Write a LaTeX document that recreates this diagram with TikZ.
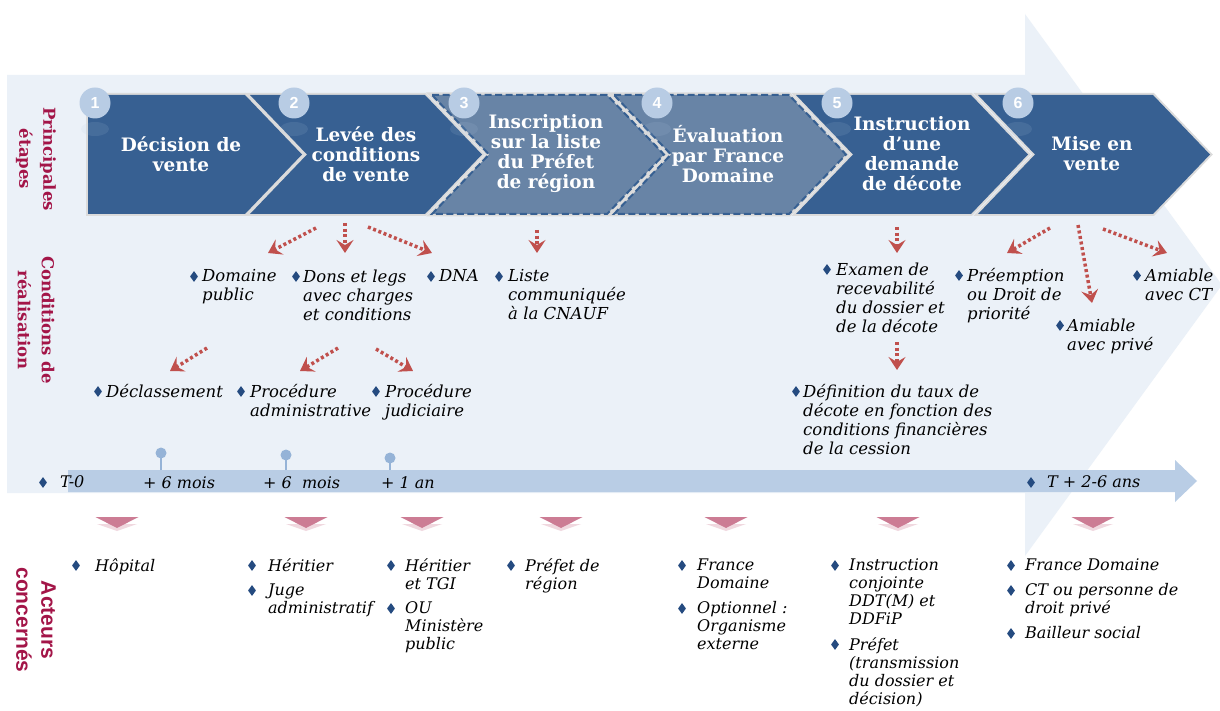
\documentclass[tikz,border=0pt]{standalone}
\usepackage{fontspec}
\setmainfont{DejaVu Serif}
\setsansfont{Liberation Sans}
\usetikzlibrary{shapes.geometric, arrows.meta}

\definecolor{fondbleu}{RGB}{235,241,248}
\definecolor{etapebleu}{RGB}{55,96,146}
\definecolor{etapeclair}{RGB}{104,132,166}
\definecolor{pastille}{RGB}{184,204,228}
\definecolor{titrerouge}{RGB}{163,21,72}
\definecolor{pucebleu}{RGB}{37,75,128}
\definecolor{flecherouge}{RGB}{192,80,77}
\definecolor{axebleu}{RGB}{185,205,229}
\definecolor{epingle}{RGB}{149,179,215}
\definecolor{rose}{RGB}{204,124,148}

% puce + texte : [style]{nom}{x puce}{x texte}{ligne de base}{texte}
\newcommand{\puce}[6][item]{%
  \node[#1, anchor=north west] (#2) at (#4,#5-12.5) {#6};
  \node[losange] (#2-p) at (#3,#5-5.5) {};}

\begin{document}
\begin{tikzpicture}[x=1pt, y=-1pt,
    etape/.style={fill=etapebleu, preaction={draw=black!14, line width=4pt}},
    etapetir/.style={fill=etapeclair, draw=etapebleu, line width=2pt, dash pattern=on 7pt off 3.5pt,
      preaction={draw=black!14, solid, line width=5pt}},
    rond/.style={circle, fill=pastille, minimum size=31pt, inner sep=0pt, text=white,
      font=\sffamily\bfseries\fontsize{16}{16}\selectfont},
    titreetape/.style={text=white, align=center, font=\bfseries\fontsize{18.5}{20}\selectfont},
    titre/.style={text=titrerouge, align=center, rotate=-90, font=\bfseries\fontsize{16.5}{24}\selectfont},
    item/.style={align=left, inner sep=0pt, text=black, font=\itshape\fontsize{16.5}{19}\selectfont},
    acteur/.style={align=left, inner sep=0pt, text=black, font=\itshape\fontsize{16}{18}\selectfont},
    axetxt/.style={inner sep=0pt, text=black, font=\itshape\fontsize{16}{18}\selectfont},
    losange/.style={diamond, fill=pucebleu, minimum width=8pt, minimum height=11pt, inner sep=0pt},
    fleche/.style={flecherouge, line width=3.5pt, dash pattern=on 3pt off 2.6pt,
      -{Stealth[length=13pt, width=17pt, inset=5pt]}}]
  \useasboundingbox (0,0) rectangle (1220,711);
  \fill[white] (0,0) rectangle (1220,711);
  \clip (0,0) rectangle (1220,711);

  % grande flèche de fond
  \fill[fondbleu] (7,75) -- (1025,75) -- (1025,14) -- (1222,285) -- (1025,556) -- (1025,493) -- (7,493) -- cycle;

  % étapes (chevrons)
  \path[etape] (88,95) -- (245,95) -- (302,154.5) -- (245,214) -- (88,214) -- cycle;
  \foreach \g in {250,796,978}
    \path[etape] (\g,95) -- ++(175,0) -- ++(57,59.5) -- ++(-57,59.5) -- ++(-175,0) -- ++(57,-59.5) -- cycle;
  \foreach \g in {432,614}
    \path[etapetir] (\g,95) -- ++(175,0) -- ++(57,59.5) -- ++(-57,59.5) -- ++(-175,0) -- ++(57,-59.5) -- cycle;

  % reflets des pastilles
  \foreach \x in {95,294,464,657,837,1018}
    \fill[pastille, opacity=.12] (\x,129) ellipse[x radius=14, y radius=7];

  % pastilles numérotées
  \node[rond] (n1) at (95,103) {1};
  \node[rond] (n2) at (294,103) {2};
  \node[rond] (n3) at (464,103) {3};
  \node[rond] (n4) at (657,103) {4};
  \node[rond] (n5) at (837,103) {5};
  \node[rond] (n6) at (1018,103) {6};

  % textes des étapes
  \node[titreetape] (e1) at (181,154) {Décision de\\vente};
  \node[titreetape] (e2) at (366,154) {Levée des\\conditions\\de vente};
  \node[titreetape] (e3) at (546,154) {Inscription\\sur la liste\\du Préfet\\de région};
  \node[titreetape] (e4) at (728,154) {Évaluation\\par France\\Domaine};
  \node[titreetape] (e5) at (912,154) {Instruction\\d’une\\demande\\de décote};
  \node[titreetape] (e6) at (1092,154) {Mise en\\vente};

  % titres des lignes
  \node[titre] (l1) at (36,159) {Principales\\étapes};
  \node[titre] (l2) at (36,320) {Conditions de\\réalisation};
  \node[titre, font=\sffamily\bfseries\fontsize{21}{25}\selectfont] (l3) at (36,620) {Acteurs\\concernés};

  % conditions de réalisation
  \puce{c1}{194}{202}{282}{Domaine\\public}
  \puce{c2}{296}{303}{282}{Dons et legs\\avec charges\\et conditions}
  \puce{c3}{431}{439}{282}{DNA}
  \puce{c4}{499}{508}{282}{Liste\\communiquée\\à la CNAUF}
  \puce{c5}{98}{106}{397}{Déclassement}
  \puce{c6}{241}{250}{397}{Procédure\\administrative}
  \puce{c7}{376}{385}{397}{Procédure\\judiciaire}
  \puce{c8}{827}{836}{275}{Examen de\\recevabilité\\du dossier et\\de la décote}
  \puce{c9}{796}{803}{397}{Définition du taux de\\décote en fonction des\\conditions financières\\de la cession}
  \puce{c10}{959}{967}{281}{Préemption\\ou Droit de\\priorité}
  \puce{c11}{1060}{1067}{331}{Amiable\\avec privé}
  \puce{c12}{1137}{1145}{281}{Amiable\\avec CT}

  % flèches pointillées
  \coordinate (f1a) at (316,228);  \coordinate (f1b) at (268,253);
  \coordinate (f2a) at (345,223);  \coordinate (f2b) at (345,253);
  \coordinate (f3a) at (368,227);  \coordinate (f3b) at (432,253);
  \coordinate (f4a) at (207,348);  \coordinate (f4b) at (170,371);
  \coordinate (f5a) at (338,348);  \coordinate (f5b) at (300,371);
  \coordinate (f6a) at (376,349);  \coordinate (f6b) at (413,371);
  \coordinate (f7a) at (537,230);  \coordinate (f7b) at (537,253);
  \coordinate (f8a) at (897,227);  \coordinate (f8b) at (897,253);
  \coordinate (f9a) at (897,342);  \coordinate (f9b) at (897,370);
  \coordinate (f10a) at (1050,228); \coordinate (f10b) at (1007,253);
  \coordinate (f11a) at (1078,225); \coordinate (f11b) at (1092,303);
  \coordinate (f12a) at (1103,229); \coordinate (f12b) at (1167,253);
  \foreach \i in {1,...,12}
    \draw[fleche] (f\i a) -- (f\i b);

  % axe du temps
  \fill[axebleu] (68,470) -- (1175,470) -- (1175,460) -- (1197,481) -- (1175,502) -- (1175,492) -- (68,492) -- cycle;
  \foreach \x/\y in {161/453, 286/455, 390/458} {
    \draw[epingle, line width=1.5pt] (\x,470) -- (\x,\y);
    \fill[epingle] (\x,\y) circle[radius=5.5];
  }
  \puce[axetxt]{t0}{43}{60}{488}{T-0}
  \node[axetxt, anchor=base west] (t1) at (143,488) {+ 6 mois};
  \node[axetxt, anchor=base west] (t2) at (263,488) {+ 6~ mois};
  \node[axetxt, anchor=base west] (t3) at (381,488) {+ 1 an};
  \puce[axetxt]{t4}{1031}{1047}{488}{T + 2-6 ans}

  % triangles roses
  \foreach \x in {117,306,422,561,726,898,1093} {
    \fill[rose!30] (\x-20,524) -- (\x+20,524) -- (\x,531) -- cycle;
    \fill[rose] (\x-21.5,517) -- (\x+21.5,517) -- (\x,528) -- cycle;
  }

  % acteurs concernés
  \puce[acteur]{a1}{76}{95}{571}{Hôpital}
  \puce[acteur]{a2}{252}{268}{571}{Héritier}
  \puce[acteur]{a3}{252}{268}{596}{Juge\\administratif}
  \puce[acteur]{a4}{391}{405}{571}{Héritier\\et TGI}
  \puce[acteur]{a5}{391}{405}{614}{OU\\Ministère\\public}
  \puce[acteur]{a6}{511}{525}{571}{Préfet de\\région}
  \puce[acteur]{a7}{682}{697}{571}{France\\Domaine}
  \puce[acteur]{a8}{682}{697}{614}{Optionnel :\\Organisme\\externe}
  \puce[acteur]{a9}{835}{849}{571}{Instruction\\conjointe\\DDT(M) et\\DDFiP}
  \puce[acteur]{a10}{835}{849}{650}{Préfet\\(transmission\\du dossier et\\décision)}
  \puce[acteur]{a11}{1011}{1025}{571}{France Domaine}
  \puce[acteur]{a12}{1011}{1025}{596}{CT ou personne de\\droit privé}
  \puce[acteur]{a13}{1011}{1025}{639}{Bailleur social}
\end{tikzpicture}
\end{document}
